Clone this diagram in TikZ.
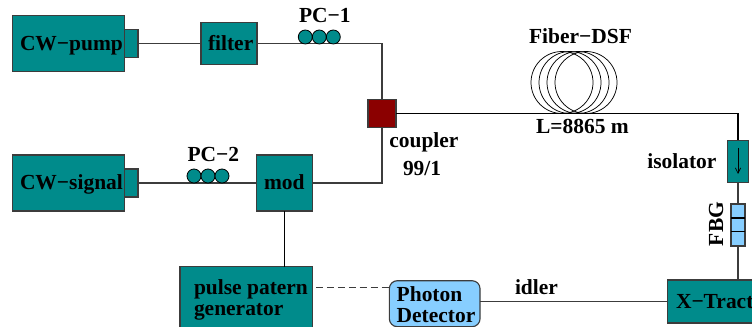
\documentclass[tikz,border=0pt]{standalone}
\usepackage{fontspec}
\usetikzlibrary{arrows.meta}
\setmainfont{Liberation Serif}
\definecolor{tealbox}{RGB}{0,139,139}
\definecolor{redbox}{RGB}{139,0,0}
\definecolor{bluebox}{RGB}{135,206,255}
\definecolor{wire}{RGB}{60,60,60}
\tikzset{
  x=0.75pt,y=-0.75pt,
  lab/.style={inner sep=0pt,outer sep=0pt,anchor=base west,font=\fontsize{16.1pt}{18pt}\selectfont\bfseries,text=black},
  boxed/.style={draw=wire,line width=0.85pt,inner sep=0pt,outer sep=0pt},
  tealb/.style={boxed,fill=tealbox},
  sized/.style 2 args={minimum width=#1*0.75pt,minimum height=#2*0.75pt},
  wireline/.style={draw=wire,line width=0.85pt},
  coil/.style={draw=black,line width=0.55pt},
  pcball/.style={circle,draw=black,line width=0.6pt,fill=tealbox,inner sep=0pt,outer sep=0pt,minimum size=14*0.75pt}
}
\begin{document}
\begin{tikzpicture}
\clip (0,0) rectangle (752,327);
% boxes
\node[tealb,sized={112}{55.5}] (pump) at (68.5,43.5) {};
\node[tealb,sized={13.5}{28}] (pumpout) at (131.25,43.5) {};
\node[tealb,sized={56}{41.5}] (filter) at (229,43.5) {};
\node[tealb,sized={112}{56}] (signal) at (68.5,183) {};
\node[tealb,sized={13.5}{28}] (signalout) at (131.25,183) {};
\node[tealb,sized={56.4}{56}] (mod) at (284.5,183) {};
\node[tealb,sized={132.7}{70}] (pulse) at (246.3,301.7) {};
\node[boxed,fill=redbox,sized={28}{28.5}] (coupler) at (382,113.5) {};
\node[tealb,sized={21.5}{42}] (iso) at (738,161.5) {};
\node[boxed,fill=bluebox,sized={14}{42}] (fbg) at (738,225) {};
\node[tealb,sized={140.6}{43}] (xt) at (738,301.5) {};
\node[boxed,fill=bluebox,rounded corners=8*0.75pt,sized={90.7}{46}] (pd) at (434.7,303.7) {};
% connectors
\draw[wireline] (pumpout.east) -- (filter.west);
\draw[wireline] (filter.east) -| (coupler.north);
\draw[wireline] (signalout.east) -- (mod.west);
\draw[wireline] (mod.east) -| (coupler.south);
\draw[wireline,draw=black] (coupler.east) -| (iso.north);
\draw[wireline] (iso.south) -- (fbg.north);
\draw[wireline] (fbg.south) -- (xt.north);
\draw[wireline,draw=black] (mod.south) -- (mod.south |- pulse.north);
\draw[wireline] (xt.west) -- (xt.west -| pd.east);
\coordinate (dashstart) at (316,287.5);
\draw[wireline,dash pattern=on 5.2pt off 3pt] (dashstart) -- (dashstart -| pd.west);
% FBG gratings
\coordinate (fbga) at (731,218);
\coordinate (fbgb) at (731,231.3);
\draw[draw=black,line width=0.9pt] (fbga) -- (fbga -| fbg.east);
\draw[draw=black,line width=0.9pt] (fbgb) -- (fbgb -| fbg.east);
% isolator arrow
\coordinate (isoa) at (738,148);
\coordinate (isob) at (738,174);
\draw[draw=black,line width=0.55pt,-{Straight Barb[length=4pt,width=4pt]}] (isoa) -- (isob);
% polarisation controllers
\node[pcball] (pca) at (305.3,37) {};
\node[pcball] (pcb) at (319.3,37) {};
\node[pcball] (pcc) at (333.3,37) {};
\node[pcball] (pcd) at (194,176) {};
\node[pcball] (pce) at (208,176) {};
\node[pcball] (pcf) at (222,176) {};
% fibre coil
\foreach \cx in {562,570,578,586}
  \draw[coil] (\cx,82.5) circle[radius=31*0.75pt];
% labels
\node[lab] (lpump) at (20,50.7) {CW−pump};
\node[lab] (lfilter) at (208,50.7) {filter};
\node[lab] (lpca) at (299,23) {PC−1};
\node[lab] (lpcb) at (187.5,161.7) {PC−2};
\node[lab] (lsignal) at (20,190) {CW−signal};
\node[lab] (lmod) at (264,190) {mod};
\node[lab] (lpulse) at (194,295) {pulse patern};
\node[lab] (lgen) at (194,315.7) {generator};
\node[lab] (lphoton) at (396.7,301.7) {Photon};
\node[lab] (ldet) at (396.7,322) {Detector};
\node[lab] (lidler) at (515,295) {idler};
\node[lab] (lxt) at (676,308) {X−Tract};
\node[lab] (liso) at (647.3,169) {isolator};
\node[lab,anchor=base,rotate=90] (lfbg) at (723,224) {FBG};
\node[lab] (lcoup) at (389.3,147.7) {coupler};
\node[lab] (lratio) at (403,175.7) {99/1};
\node[lab] (lfiber) at (529,44) {Fiber−DSF};
\node[lab] (llen) at (536,133.3) {L=8865 m};
\end{tikzpicture}
\end{document}
